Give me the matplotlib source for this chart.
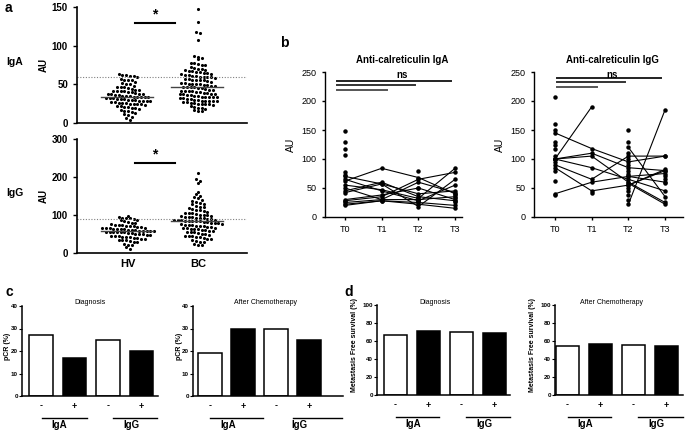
import numpy as np
import matplotlib.pyplot as plt

plt.rcParams['font.family'] = ['Liberation Sans', 'DejaVu Sans']

W, H = 685, 432

# ---- panel a : dot plots, healthy volunteers vs breast cancer
groups = ['HV', 'BC']
hv_iga = [63, 62, 62, 61, 61, 60, 57, 56, 55, 55, 53, 52, 51, 50, 48, 47, 46, 46, 45, 44,
          43, 43, 42, 42, 41, 41, 40, 40, 39, 38, 38, 37, 37, 36, 36, 35, 35, 35, 34, 34,
          34, 33, 33, 32, 32, 32, 31, 31, 31, 30, 30, 30, 29, 29, 28, 28, 27, 27, 26, 26,
          26, 25, 25, 24, 24, 23, 22, 22, 21, 21, 20, 19, 18, 17, 16, 15, 14, 13, 12, 10,
          8, 7, 4]
bc_iga = [148, 130, 118, 116, 107, 86, 85, 84, 83, 78, 77, 76, 75, 75, 72, 71, 70, 70, 69,
          68, 67, 67, 66, 66, 65, 65, 64, 63, 62, 62, 61, 61, 60, 60, 59, 59, 58, 57, 57,
          56, 56, 55, 55, 54, 53, 52, 52, 51, 51, 50, 50, 49, 49, 48, 48, 47, 47, 46, 46,
          45, 45, 44, 43, 43, 42, 42, 41, 41, 40, 40, 39, 39, 38, 38, 37, 37, 36, 36, 35,
          35, 34, 34, 34, 33, 33, 32, 32, 31, 31, 30, 30, 29, 29, 29, 28, 28, 27, 27, 26,
          26, 25, 25, 24, 24, 23, 22, 21, 20, 19, 18, 17, 16, 15]
hv_igg = [98, 95, 93, 92, 91, 90, 88, 86, 84, 82, 80, 78, 76, 75, 74, 73, 72, 71, 70, 69,
          68, 67, 66, 66, 65, 64, 63, 62, 62, 61, 60, 60, 59, 58, 58, 57, 57, 56, 56, 55,
          55, 54, 54, 53, 52, 51, 50, 49, 48, 47, 46, 45, 44, 43, 42, 41, 40, 40, 38, 36,
          35, 34, 33, 31, 30, 28, 25, 22, 20, 15, 10]
bc_igg = [210, 195, 190, 185, 160, 155, 150, 148, 145, 140, 138, 135, 132, 130, 128, 125,
          122, 120, 118, 116, 114, 112, 110, 108, 106, 105, 104, 102, 101, 100, 99, 98, 97,
          96, 95, 94, 93, 92, 91, 90, 89, 88, 87, 86, 86, 85, 85, 84, 84, 83, 82, 81, 80,
          79, 78, 77, 76, 75, 74, 73, 72, 71, 70, 69, 68, 67, 66, 65, 64, 63, 62, 61, 60,
          59, 58, 56, 55, 54, 52, 51, 50, 48, 46, 45, 44, 42, 41, 40, 38, 36, 34, 32, 30,
          28, 25, 22, 20]
iga_cutoff = 60
igg_cutoff = 90

# ---- panel b : follow-up during chemotherapy
time_labels = ['T0', 'T1', 'T2', 'T3']
iga_traj = [[62, 84, 68, 40], [55, 47, 32, 84], [45, 60, 35, 28], [28, 35, 65, 77],
            [25, 30, 30, 35], [22, 28, 25, 20], [70, 57, 40, 45], [30, 38, 50, 30],
            [50, 30, 60, 42], [20, 28, 22, 15], [65, 45, 28, 55], [42, 57, 18, 65]]
iga_extra = [[148, 130, 118, 107, 77, 73], [], [80, 50, 30], [38, 32, 25]]
igg_traj = [[145, 118, 95, 105], [100, 110, 85, 80], [100, 190, np.nan, np.nan],
            [90, 65, 105, 105], [40, 60, 70, 60], [100, 85, 65, 45], [100, 105, 60, 25],
            [85, 45, 55, 80], [np.nan, np.nan, 22, 185], [np.nan, np.nan, 120, 35],
            [np.nan, np.nan, 70, 75], [np.nan, np.nan, 55, 82], [np.nan, np.nan, 58, 22]]
igg_extra = [[207, 160, 150, 130, 125, 118, 105, 95, 80, 62, 38], [42],
             [150, 130, 110, 100, 90, 80, 75, 50, 45, 38, 30], [58, 65, 70]]

# ---- panels c, d : bars
bar_signs = ['-', '+', '-', '+']
bar_groups = ['IgA', 'IgG']
pcr_diag = [27, 17, 25, 20]
pcr_chemo = [19, 30, 30, 25]
mfs_diag = [67, 71, 70, 69]
mfs_chemo = [55, 57, 56, 55]


def px_axes(left, top, right, bottom):
    return fig.add_axes([left / W, 1 - bottom / H, (right - left) / W, (bottom - top) / H])


def ftext(x, y, s, **kw):
    kw.setdefault('ha', 'center')
    kw.setdefault('va', 'center')
    return fig.text(x / W, 1 - y / H, s, **kw)


def style(ax, lw=1.2):
    for s in ['top', 'right']:
        ax.spines[s].set_visible(False)
    for s in ['left', 'bottom']:
        ax.spines[s].set_linewidth(lw)


def row_offsets(y_px, row_h, sp):
    # prism-like scatter: bin points into rows, spread each row around the centre
    y_px = np.asarray(y_px)
    rows = np.round(y_px / row_h).astype(int)
    out = np.zeros(len(y_px))
    for r in np.unique(rows):
        idx = np.where(rows == r)[0]
        n = len(idx)
        out[idx] = (np.arange(n) - (n - 1) / 2) * sp
    return out


fig = plt.figure(figsize=(W / 100, H / 100), dpi=100)

# ---------- panel a
unit = 70.0  # px between HV and BC
for vals, ymax, ticks, (top, bottom), cutoff, sig, lab in [
        ((hv_iga, bc_iga), 150, [0, 50, 100, 150], (7, 123), iga_cutoff, (129, 140), 'IgA'),
        ((hv_igg, bc_igg), 300, [0, 100, 200, 300], (139, 253), igg_cutoff, (237, 258), 'IgG')]:
    ax = px_axes(77, top, 247, bottom)
    style(ax)
    ax.set_ylim(0, ymax)
    ax.set_xlim((77 - 128) / unit, (247 - 128) / unit)
    pxper = (bottom - top) / ymax
    for k, v in enumerate(vals):
        v = np.array(v, float)
        off = row_offsets(v * pxper, 3.9, 3.7) / unit
        ax.scatter(k + off, v, s=5, color='black', lw=0, clip_on=False)
        m = np.median(v)
        ax.plot([k - 0.38, k + 0.35], [m, m], color='#444444', lw=1)
    ax.axhline(cutoff, color='gray', ls=(0, (1, 1.5)), lw=0.8)
    ax.plot([0.1, 0.67], [sig[0], sig[0]], color='black', lw=1.5, clip_on=False)
    ax.text(0.38, sig[1], '*', ha='center', va='center', fontsize=10, fontweight='bold')
    ax.set_yticks(ticks)
    ax.tick_params(axis='y', labelsize=7, length=3, width=1)
    for t in ax.get_yticklabels():
        t.set_fontweight('bold')
    ax.set_ylabel('AU', fontsize=7, fontweight='bold', labelpad=2)
    if lab == 'IgG':
        ax.set_xticks([0, 1])
        ax.set_xticklabels(groups, fontsize=8, fontweight='bold')
        ax.tick_params(axis='x', length=0, pad=4)
    else:
        ax.set_xticks([])
    ftext(15, (top + bottom) / 2 - 3, lab, fontsize=7.5, fontweight='bold')

# ---------- panel b
for (left, right, x0), traj, extra, title, sigys, sigx0 in [
        ((325, 462, 345), iga_traj, iga_extra, 'Anti-calreticulin IgA', (234, 227, 219), -0.22),
        ((534, 683, 555), igg_traj, igg_extra, 'Anti-calreticulin IgG', (240, 232, 225), 0.05)]:
    sp = 36.7
    ax = px_axes(left, 72, right, 217)
    style(ax, 1.0)
    ax.set_ylim(0, 250)
    ax.set_xlim((left - x0) / sp, (right - x0) / sp)
    for tr in traj:
        ax.plot(range(4), tr, color='black', lw=0.8, marker='o', ms=2.2)
    for k, pts in enumerate(extra):
        ax.plot([k] * len(pts), pts, 'o', color='black', ms=2.2)
    ax.plot([sigx0, 2.9], [sigys[0]] * 2, color='#222222', lw=1.4, clip_on=False)
    ax.plot([sigx0, 1.9], [sigys[1]] * 2, color='#333333', lw=1.4, clip_on=False)
    ax.plot([sigx0, 1.15], [sigys[2]] * 2, color='#555555', lw=1.4, clip_on=False)
    ax.set_xticks(range(4))
    ax.set_xticklabels(time_labels)
    ax.set_yticks(range(0, 251, 50))
    ax.tick_params(labelsize=6.5, length=2.5, width=1)
    ax.set_ylabel('AU', fontsize=7.5, labelpad=4)
    cx = (x0 + x0 + 3 * sp) / 2 + 2
    ftext(cx, 60, title, fontsize=7, fontweight='bold')
    ftext(cx, 75, 'ns', fontsize=7, fontweight='bold')

# ---------- panels c and d
bar_panels = [
    ((22, 306, 158, 396), 41, 33.5, pcr_diag, 40, 10, 'pCR (%)', 'Diagnosis', 90,
     ((0.03, 1.37), (2.15, 3.46)), 8),
    ((193, 306, 343, 396), 210, 33.0, pcr_chemo, 40, 10, 'pCR (%)', 'After Chemotherapy', 265,
     ((0.0, 1.6), (2.5, 4.0)), 179),
    ((377, 305, 510, 395), 395.5, 33.0, mfs_diag, 100, 20, 'Metastasis Free survival (%)',
     'Diagnosis', 435, ((0.0, 1.33), (2.15, 3.47)), 355),
    ((555, 305, 683, 395), 567.5, 33.0, mfs_chemo, 100, 20, 'Metastasis Free survival (%)',
     'After Chemotherapy', 612, ((0.0, 1.33), (2.14, 3.5)), 533),
]
for (l, t, r, b), x0, sp, vals, ymax, step, ylab, title, tx, spans, ylx in bar_panels:
    ax = px_axes(l, t, r, b)
    style(ax, 1.1)
    ax.set_ylim(0, ymax)
    ax.set_xlim((l - x0) / sp, (r - x0) / sp)
    colors = ['white', 'black', 'white', 'black']
    ax.bar(range(4), vals, width=0.7, color=colors, edgecolor='black', linewidth=1.1)
    ax.set_yticks(range(0, ymax + 1, step))
    ax.tick_params(axis='y', labelsize=4.5, length=2, width=0.8, pad=1)
    for tl in ax.get_yticklabels():
        tl.set_fontweight('bold')
    ax.set_xticks(range(4))
    ax.set_xticklabels(bar_signs, fontsize=6.5, fontweight='bold')
    ax.tick_params(axis='x', length=0, pad=4)
    for (a, c), g in zip(spans, bar_groups):
        ax.plot([a, c], [-0.24 * ymax, -0.24 * ymax], color='black', lw=1, clip_on=False)
    ftext(x0 + sp * 0.55, b + 29, bar_groups[0], fontsize=7, fontweight='bold')
    ftext(x0 + sp * 2.7, b + 29, bar_groups[1], fontsize=7, fontweight='bold')
    ftext(tx, t - 3, title, fontsize=5)
    ftext(ylx, (t + b) / 2 - 5, ylab, fontsize=5, fontweight='bold', rotation=90)

# panel letters
ftext(5, 8, 'a', fontsize=10, fontweight='bold', ha='left')
ftext(280, 43, 'b', fontsize=10, fontweight='bold', ha='left')
ftext(5, 292, 'c', fontsize=10, fontweight='bold', ha='left')
ftext(344, 292, 'd', fontsize=10, fontweight='bold', ha='left')

fig.savefig('out.png', dpi=100)
